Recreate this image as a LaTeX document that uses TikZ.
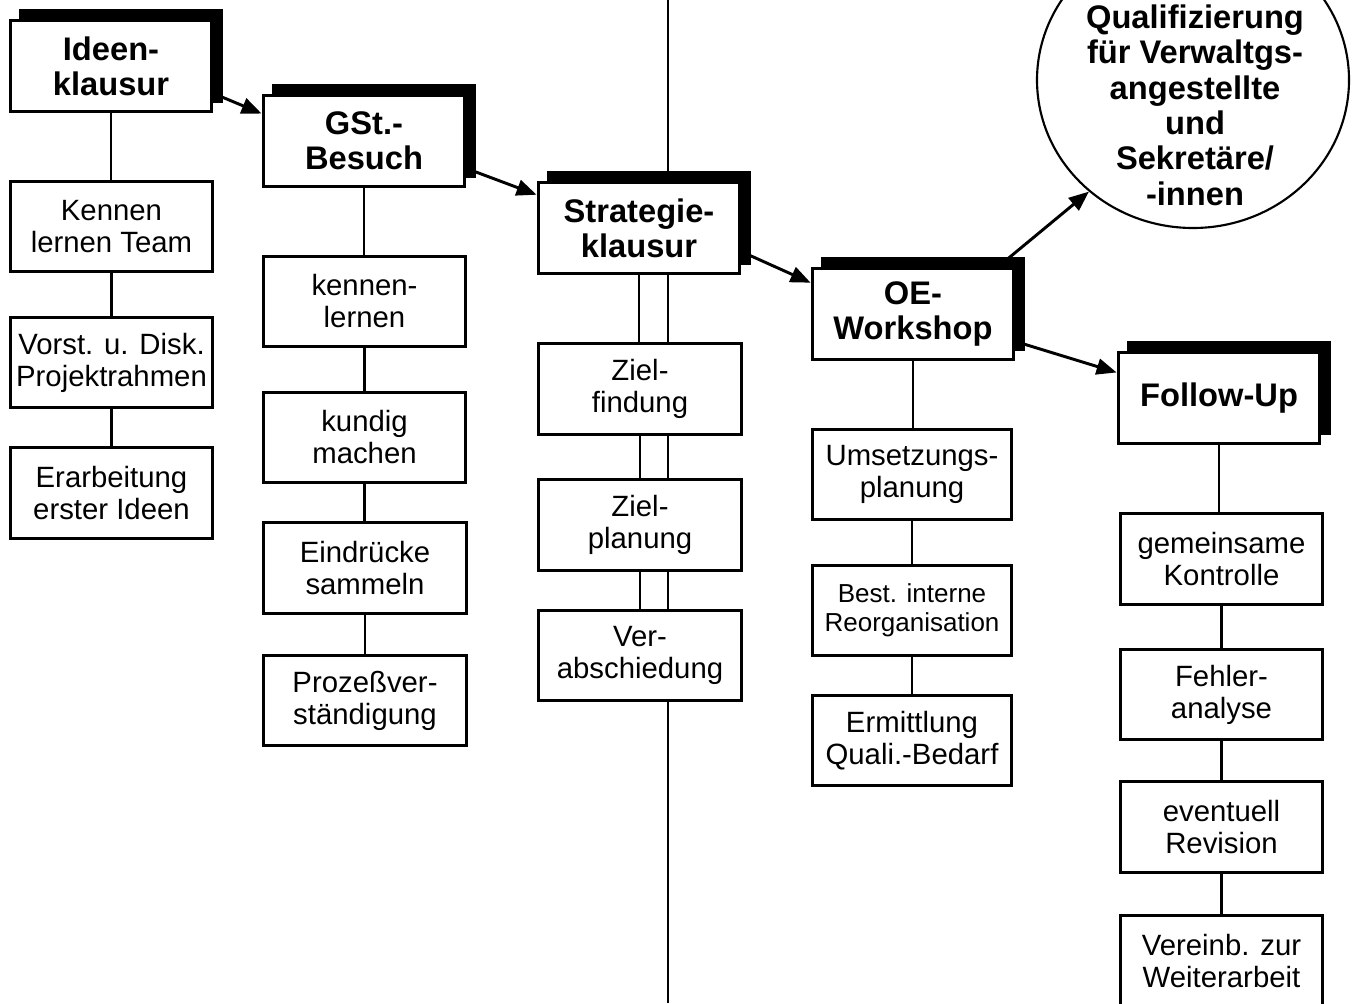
\documentclass[tikz,border=0pt]{standalone}
\usepackage{fontspec}
\setmainfont{Liberation Sans}
\usetikzlibrary{shapes.geometric,shadows,arrows.meta}

\begin{document}
\begin{tikzpicture}[x=0.75pt,y=-0.75pt,
  stufe/.style={draw,line width=2.6pt,fill=white,minimum width=151pt,minimum height=68pt,
    inner sep=0pt,align=center,font=\bfseries\fontsize{24.5}{26.3}\selectfont,
    copy shadow={shadow xshift=7.5pt,shadow yshift=7.5pt,fill=black,draw=black}},
  schritt/.style={draw,line width=2.2pt,fill=white,minimum width=152pt,minimum height=68pt,
    inner sep=0pt,align=center,font=\fontsize{22}{24}\selectfont},
  linie/.style={line width=2.2pt},
  pfeil/.style={line width=2.2pt,-{Triangle[length=15pt,width=12pt]}}]
  \clip (0,0) rectangle (1358,1003);

  % Trennlinie hinter der Strategieklausur
  \coordinate (oben) at (668,0);
  \coordinate (unten) at (668,1003);
  \draw[line width=1.2pt] (oben) -- (unten);

  % Stufen
  \node[stufe] (ideen) at (111,66) {Ideen-\\klausur};
  \node[stufe] (gst) at (364,141) {GSt.-\\Besuch};
  \node[stufe] (strat) at (639,228) {Strategie-\\klausur};
  \node[stufe] (oe) at (913,314) {OE-\\Workshop};
  \node[stufe] (fu) at (1219,398) {Follow-Up};
  \node[draw,line width=1.6pt,ellipse,minimum width=234pt,minimum height=222pt] (qual) at (1193,80) {};
  \node[align=center,font=\bfseries\fontsize{24.5}{26.5}\selectfont] (qualtxt) at (1195,105)
    {Qualifizierung\\für Verwaltgs-\\angestellte\\und\\Sekretäre/\\-innen};

  % Schritte je Stufe
  \node[schritt] (kennen) at (111.5,226.5) {Kennen\\lernen Team};
  \node[schritt] (vorst) at (111.5,362.5) {Vorst. u. Disk.\\Projektrahmen};
  \node[schritt] (erarb) at (111.5,493) {Erarbeitung\\erster Ideen};

  \node[schritt] (kennenlernen) at (364.5,301.5) {kennen-\\lernen};
  \node[schritt] (kundig) at (364.5,437.5) {kundig\\machen};
  \node[schritt] (eindruecke) at (365,568) {Eindrücke\\sammeln};
  \node[schritt] (prozess) at (365,700.5) {Prozeßver-\\ständigung};

  \node[schritt] (zielf) at (640,389) {Ziel-\\findung};
  \node[schritt] (zielp) at (640,525) {Ziel-\\planung};
  \node[schritt] (verab) at (640,655.5) {Ver-\\abschiedung};

  \node[schritt,minimum width=149pt] (umsetz) at (912,474.5) {Umsetzungs-\\planung};
  \node[schritt,minimum width=149pt,font=\fontsize{19.5}{22}\selectfont] (best) at (912,610.5)
    {Best. interne\\Reorganisation};
  \node[schritt,minimum width=149pt] (ermitt) at (912,740.5) {Ermittlung\\Quali.-Bedarf};

  \node[schritt] (gemeins) at (1221.5,559) {gemeinsame\\Kontrolle};
  \node[schritt] (fehler) at (1221.5,694.5) {Fehler-\\analyse};
  \node[schritt] (revision) at (1221.5,827) {eventuell\\Revision};
  \node[schritt] (vereinb) at (1221.5,960.5) {Vereinb. zur\\Weiterarbeit};

  \foreach \a/\b in {ideen/kennen,kennen/vorst,vorst/erarb,
    gst/kennenlernen,kennenlernen/kundig,kundig/eindruecke,eindruecke/prozess,
    strat/zielf,zielf/zielp,zielp/verab,
    oe/umsetz,umsetz/best,best/ermitt,
    fu/gemeins,gemeins/fehler,fehler/revision,revision/vereinb}
    \draw[linie] (\a.south) -- (\a.south |- \b.north);

  % Pfeile zwischen den Stufen
  \draw[pfeil] (ideen.-15) -- (gst.165);
  \draw[pfeil] (gst.-15) -- (strat.162);
  \draw[pfeil] (strat.-13) -- (oe.163);
  \draw[pfeil] (oe.-15) -- (fu.166);
  \draw[pfeil] (oe.29) -- (qual.227);
\end{tikzpicture}
\end{document}
